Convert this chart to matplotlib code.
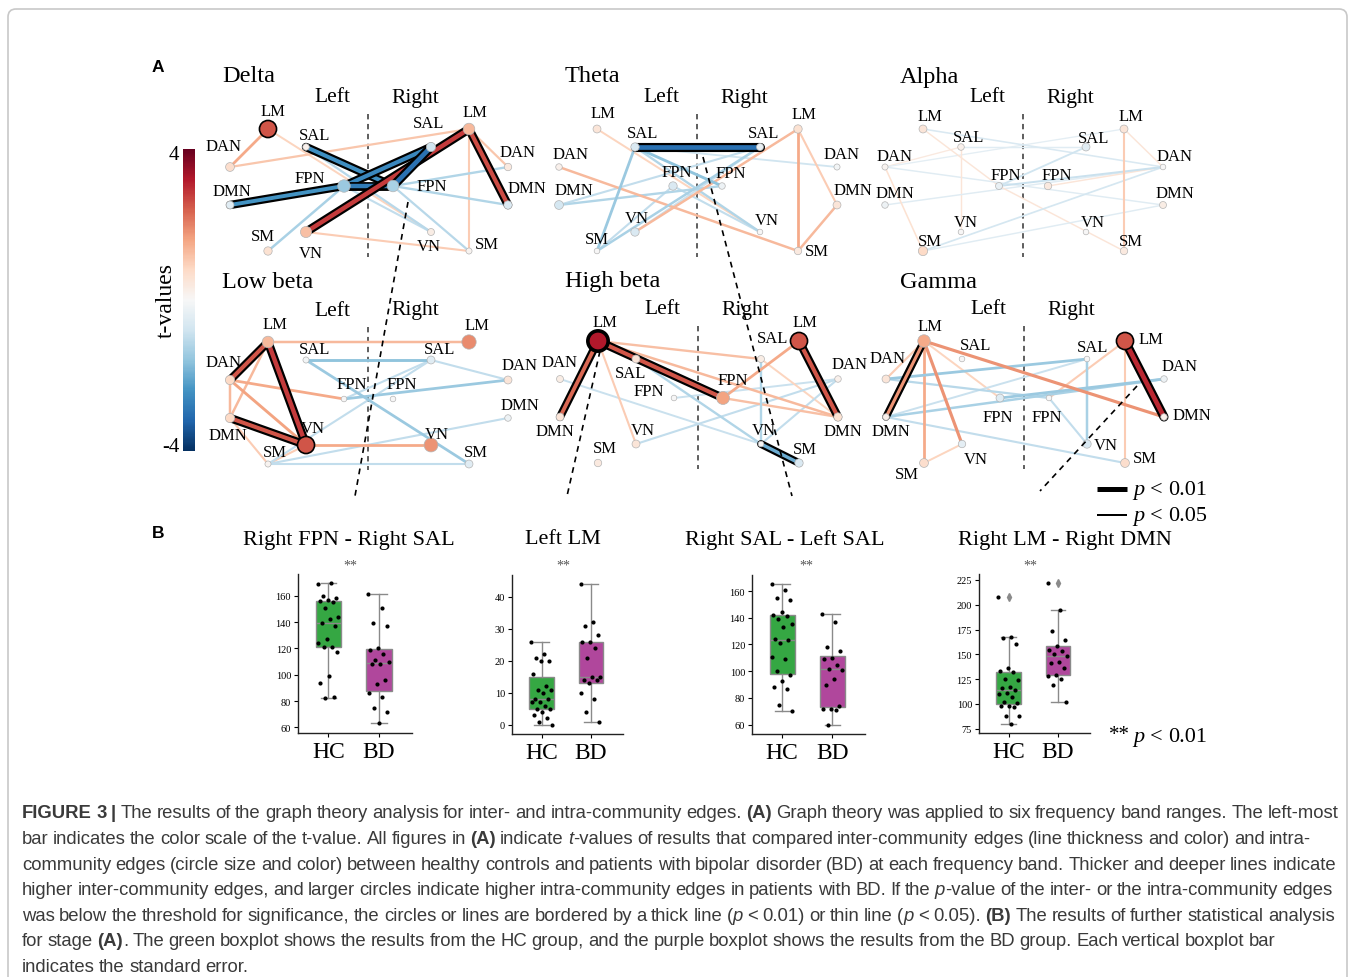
import numpy as np
import matplotlib.pyplot as plt
import matplotlib.patheffects as pe
from matplotlib.patches import FancyBboxPatch
from matplotlib.colors import Normalize
from matplotlib.cm import ScalarMappable

W, H = 1354, 978
SERIF = ['Liberation Serif', 'DejaVu Serif']
SANS = ['Liberation Sans', 'DejaVu Sans']
plt.rcParams['font.family'] = SERIF
PT = 0.72  # points per pixel at dpi 100
cmap = plt.get_cmap('RdBu_r')
norm = Normalize(-4, 4)

# ---------------- data: node t-values (order of node_names) ----------------
node_names = ['L_LM', 'L_SAL', 'L_DAN', 'L_DMN', 'L_FPN', 'L_VN', 'L_SM',
              'R_FPN', 'R_SAL', 'R_VN', 'R_LM', 'R_DAN', 'R_DMN', 'R_SM']

delta_nodes = [2.5, 0.2, 0.7, -0.5, -1.5, 1.2, 0.6, -1.3, -0.8, 0.3, 1.3, 0.4, -0.6, 0.1]
theta_nodes = [0.5, -0.6, 0.2, -0.7, -0.6, -0.6, 0.0, -0.2, -0.3, 0.0, 0.6, -0.1, 0.5, 0.4]
alpha_nodes = [0.5, 0.2, 0.1, -0.2, -0.3, 0.0, 0.8, 0.4, -0.5, 0.0, 0.5, 0.0, 0.3, 0.4]
lowbeta_nodes = [1.3, -0.1, 0.8, 0.8, 0.0, 2.5, 0.1, 0.0, -0.5, 1.8, 1.9, 0.5, -0.2, -0.5]
highbeta_nodes = [3.2, 0.5, 0.3, 0.5, 0.0, 0.5, 0.4, 1.6, 0.3, 0.0, 2.5, 0.2, 0.6, -0.6]
gamma_nodes = [1.5, 0.0, 0.5, 0.2, -0.5, -0.4, 0.7, 0.0, 0.0, -0.6, 2.5, -0.2, 0.2, 0.7]

# significant nodes: 1 = p<0.05, 2 = p<0.01
delta_node_sig = {'L_LM': 1}
theta_node_sig = {}
alpha_node_sig = {}
lowbeta_node_sig = {'L_VN': 1}
highbeta_node_sig = {'L_LM': 2, 'R_LM': 1}
gamma_node_sig = {'R_LM': 1}

# edges: (node a, node b, t-value, significance)
delta_edges = [
    ('L_LM', 'L_DAN', 1.5, 0), ('L_LM', 'R_VN', 0.9, 0), ('L_DAN', 'R_LM', 1.1, 0),
    ('L_VN', 'R_SM', 1.0, 0), ('R_LM', 'R_DAN', 1.1, 0), ('R_LM', 'R_SM', 1.0, 0),
    ('L_SAL', 'R_VN', -1.1, 0), ('L_SM', 'L_FPN', -1.3, 0), ('L_FPN', 'R_VN', -1.0, 0),
    ('R_FPN', 'R_DAN', -1.2, 0), ('R_FPN', 'R_DMN', -1.2, 0), ('R_FPN', 'R_SM', -1.1, 0),
    ('L_SAL', 'R_FPN', -2.5, 2), ('L_DMN', 'L_FPN', -2.4, 2), ('L_FPN', 'R_FPN', -2.8, 2),
    ('L_FPN', 'R_SAL', -2.6, 2), ('R_FPN', 'R_SAL', -3.0, 2), ('L_VN', 'R_LM', 2.8, 2),
    ('R_LM', 'R_DMN', 2.6, 2),
]
theta_edges = [
    ('L_LM', 'R_VN', 0.9, 0), ('L_DAN', 'R_SM', 1.3, 0), ('L_VN', 'R_LM', 1.3, 0),
    ('R_LM', 'R_SM', 1.5, 0), ('R_LM', 'R_DMN', 1.0, 0), ('R_DMN', 'R_SM', 1.3, 0),
    ('L_SAL', 'L_SM', -1.5, 0), ('L_SAL', 'R_VN', -1.2, 0), ('L_SAL', 'R_FPN', -1.6, 0),
    ('L_DMN', 'R_SAL', -1.0, 0), ('L_DMN', 'R_FPN', -1.2, 0), ('L_SAL', 'R_DAN', -0.8, 0),
    ('L_SM', 'R_SAL', -1.3, 0), ('L_SM', 'L_FPN', -1.0, 0), ('L_FPN', 'R_VN', -1.0, 0),
    ('L_VN', 'R_SAL', -0.9, 0),
    ('L_SAL', 'R_SAL', -3.0, 2),
]
alpha_edges = [
    ('L_LM', 'L_FPN', 0.5, 0), ('L_LM', 'R_DAN', -0.6, 0), ('L_DAN', 'L_SM', 0.6, 0),
    ('L_DAN', 'L_SAL', 0.4, 0), ('L_DAN', 'R_LM', -0.4, 0), ('L_DAN', 'R_DMN', -0.5, 0),
    ('L_SAL', 'L_VN', 0.5, 0), ('L_SAL', 'R_SAL', -0.5, 0), ('L_DMN', 'R_DAN', -0.5, 0),
    ('L_FPN', 'R_SAL', -0.8, 0), ('L_FPN', 'R_DAN', -0.9, 0), ('R_FPN', 'R_DAN', 0.5, 0),
    ('L_FPN', 'R_SM', 0.5, 0), ('L_SM', 'R_DAN', -0.7, 0), ('L_SM', 'R_DMN', -0.5, 0),
    ('R_LM', 'R_SM', 1.0, 0), ('R_LM', 'R_DAN', 0.5, 0),
]
lowbeta_edges = [
    ('L_LM', 'R_LM', 1.3, 0), ('L_LM', 'L_DMN', 1.3, 0), ('L_DAN', 'L_DMN', 1.3, 0),
    ('L_DAN', 'L_VN', 1.6, 0), ('L_DAN', 'L_FPN', 1.5, 0), ('L_DMN', 'L_SM', 1.0, 0),
    ('L_SM', 'L_VN', 1.0, 0), ('L_VN', 'R_VN', 1.5, 0), ('L_SAL', 'R_SAL', -1.6, 0),
    ('L_SAL', 'R_SM', -1.5, 0), ('L_FPN', 'R_SAL', -1.0, 0), ('L_FPN', 'R_DAN', -1.5, 0),
    ('R_SAL', 'R_DAN', -1.0, 0), ('L_SM', 'R_SM', -1.0, 0), ('L_SM', 'R_DMN', -1.0, 0),
    ('L_SM', 'R_SAL', -1.0, 0),
    ('L_LM', 'L_DAN', 2.5, 2), ('L_LM', 'L_VN', 2.8, 2), ('L_DMN', 'L_VN', 2.5, 2),
]
highbeta_edges = [
    ('L_LM', 'L_VN', 1.0, 0), ('L_LM', 'R_SAL', 1.2, 0), ('L_LM', 'R_DMN', 1.3, 0),
    ('L_SAL', 'R_VN', -1.2, 0), ('L_DAN', 'R_VN', -0.9, 0), ('L_FPN', 'R_DAN', -0.9, 0),
    ('L_VN', 'R_DAN', -1.0, 0), ('R_FPN', 'R_LM', 1.5, 0), ('R_FPN', 'R_DMN', 1.2, 0),
    ('R_SAL', 'R_DMN', 0.9, 0), ('R_SAL', 'R_VN', -1.2, 0), ('R_VN', 'R_DAN', -1.0, 0),
    ('L_LM', 'L_DMN', 2.3, 2), ('L_LM', 'R_FPN', 2.5, 2), ('R_LM', 'R_DMN', 2.5, 2),
    ('R_VN', 'R_SM', -2.0, 2),
]
gamma_edges = [
    ('L_LM', 'L_DAN', 1.0, 0), ('L_LM', 'L_SM', 1.5, 0), ('L_LM', 'L_VN', 1.8, 0),
    ('L_LM', 'L_FPN', 0.9, 0), ('L_LM', 'R_DMN', 1.8, 0), ('L_SM', 'L_VN', 0.9, 0),
    ('L_DAN', 'R_SAL', -1.5, 0), ('L_DAN', 'R_FPN', -1.1, 0), ('L_DMN', 'R_SAL', -0.9, 0),
    ('L_DMN', 'R_DAN', -1.3, 0), ('L_DMN', 'R_SM', -1.0, 0), ('L_FPN', 'R_DAN', -1.5, 0),
    ('R_FPN', 'R_LM', 1.0, 0), ('R_FPN', 'R_VN', -1.0, 0), ('R_SAL', 'R_VN', -1.3, 0),
    ('R_LM', 'R_SM', 1.0, 0),
    ('L_LM', 'L_DMN', 1.8, 2), ('R_LM', 'R_DMN', 3.0, 2),
]

band_names = ['Delta', 'Theta', 'Alpha', 'Low beta', 'High beta', 'Gamma']

# ---------------- data: boxplots ----------------
box_titles = ['Right FPN - Right SAL', 'Left LM', 'Right SAL - Left SAL', 'Right LM - Right DMN']
groups = ['HC', 'BD']
fpn_sal_hc = [169, 170, 160, 158, 157, 156, 155, 151, 144, 142, 139, 137, 127, 124, 121, 121, 117, 99, 94, 83, 82]
fpn_sal_bd = [161, 151, 139, 137, 120, 119, 116, 111, 110, 108, 108, 96, 93, 86, 83, 75, 72, 63]
lm_hc = [26, 22, 21, 20, 20, 16, 12, 11, 11, 10, 8, 8, 7, 7, 6, 5, 5, 4, 3, 2, 1, 0]
lm_bd = [44, 32, 31, 28, 26, 26, 24, 21, 15, 15, 14, 14, 13, 10, 8, 4, 1]
sal_hc = [165, 161, 155, 153, 144, 142, 141, 139, 135, 133, 124, 123, 121, 111, 109, 100, 97, 93, 88, 87, 75, 70]
sal_bd = [143, 137, 118, 115, 110, 109, 105, 102, 101, 94, 90, 74, 72, 72, 71, 60]
lmdmn_hc = [208, 167, 166, 160, 136, 133, 132, 125, 124, 117, 116, 114, 111, 110, 107, 102, 101, 98, 98, 97, 88, 88, 80]
lmdmn_bd = [222, 195, 174, 164, 158, 154, 153, 150, 148, 142, 141, 136, 129, 128, 125, 119, 102]
box_yticks = [[60, 80, 100, 120, 140, 160], [0, 10, 20, 30, 40],
              [60, 80, 100, 120, 140, 160], [75, 100, 125, 150, 175, 200, 225]]

caption_lines = [
    "**FIGURE 3 |** The results of the graph theory analysis for inter- and intra-community edges. **(A)** Graph theory was applied to six frequency band ranges. The left-most",
    "bar indicates the color scale of the t-value. All figures in **(A)** indicate _t_-values of results that compared inter-community edges (line thickness and color) and intra-",
    "community edges (circle size and color) between healthy controls and patients with bipolar disorder (BD) at each frequency band. Thicker and deeper lines indicate",
    "higher inter-community edges, and larger circles indicate higher intra-community edges in patients with BD. If the _p_-value of the inter- or the intra-community edges",
    "was below the threshold for significance, the circles or lines are bordered by a thick line (_p_ < 0.01) or thin line (_p_ < 0.05). **(B)** The results of further statistical analysis",
    "for stage **(A)**. The green boxplot shows the results from the HC group, and the purple boxplot shows the results from the BD group. Each vertical boxplot bar",
    "indicates the standard error.",
]

# ---------------- layout (pixels) ----------------
node_dx = [0, 38, -38, -38, 76, 38, 0, 125, 163, 163, 201, 240, 240, 201]
node_dy = [0, 18, 38, 76, 57, 103, 122, 57, 18, 103, 0, 38, 76, 122]
# label offsets per band, same order as node_names
band_label_off = [
    [(5, -18), (9, -12), (-6, -21), (2, -14), (-34, -8), (5, 21), (-5, -15),
     (39, 0), (-2, -24), (-2, 14), (6, -17), (10, -15), (19, -17), (18, -7)],
    [(6, -16), (8, -14), (12, -13), (15, -15), (4, -14), (2, -14), (0, -12),
     (9, -13), (4, -14), (7, -12), (6, -15), (5, -13), (16, -15), (19, 0)],
    [(7, -13), (8, -10), (10, -11), (10, -12), (7, -11), (5, -10), (7, -10),
     (9, -11), (8, -9), (7, -10), (7, -13), (12, -11), (12, -12), (7, -10)],
    [(7, -18), (9, -11), (-6, -18), (-2, 17), (8, -15), (7, -17), (7, -12),
     (9, -15), (9, -11), (6, -11), (8, -17), (12, -15), (12, -13), (7, -12)],
    [(7, -19), (-5, 14), (0, -17), (-5, 14), (-25, -7), (7, -14), (7, -15),
     (10, -18), (12, -21), (3, -14), (6, -19), (12, -15), (5, 14), (6, -14)],
    [(6, -15), (14, -14), (2, -21), (5, 14), (-2, 19), (14, 15), (-17, 11),
     (-2, 19), (6, -12), (19, 1), (26, -2), (16, -13), (28, -2), (20, -5)],
]
band_origin = [(268, 130), (597, 130), (923, 130), (268, 343), (598, 342), (924, 342)]
band_title_xy = [(222, 77), (565, 77), (900, 77), (222, 282), (565, 282), (900, 282)]
box_rects = [(298, 575, 412, 734), (512, 576, 623, 735), (752, 576, 865, 735), (979, 575, 1090, 734)]
box_ylims = [(55.7, 176.5), (-2.9, 46.8), (53, 172), (70.7, 231)]
box_title_x = [349, 563, 785, 1065]
star_x = [350, 563, 806, 1030]
GREEN, PURPLE = '#35a743', '#b0479c'

fig = plt.figure(figsize=(W / 100, H / 100), dpi=100)
ax = fig.add_axes([0, 0, 1, 1])
ax.set_xlim(0, W)
ax.set_ylim(H, 0)
ax.axis('off')

ax.add_patch(FancyBboxPatch((8, 10), 1339, 990, boxstyle='round,pad=0,rounding_size=8',
                            facecolor='none', edgecolor='#c8c8c8', lw=1.2))


def px_rect(l, t, r, b):
    return [l / W, 1 - b / H, (r - l) / W, (b - t) / H]


def draw_band(name, origin, title_xy, node_t, node_sig, edges, label_off):
    ox, oy = origin
    pos = {n: (ox + dx, oy + dy) for n, dx, dy in zip(node_names, node_dx, node_dy)}
    ax.text(title_xy[0], title_xy[1], name, fontsize=17.5, ha='left', va='center')
    ax.text(ox + 64, oy - 32, 'Left', fontsize=15.5, ha='center', va='center')
    ax.text(ox + 147, oy - 32, 'Right', fontsize=15.5, ha='center', va='center')
    ax.plot([ox + 100, ox + 100], [oy - 15, oy + 128], ls=(0, (3.5, 3)), color='#333', lw=1.1, zorder=1)
    for a, b, t, sig in sorted(edges, key=lambda e: (e[3], abs(e[2]))):
        w = (0.8 + 1.3 * abs(t)) * PT
        eff = None
        if sig:
            extra = 4.4 if sig == 2 else 2.2
            eff = [pe.Stroke(linewidth=w + extra * PT, foreground='black'), pe.Normal()]
        ax.plot([pos[a][0], pos[b][0]], [pos[a][1], pos[b][1]], color=cmap(norm(t)), lw=w,
                solid_capstyle='round', path_effects=eff, zorder=2 + sig)
    xs = [pos[n][0] for n in node_names]
    ys = [pos[n][1] for n in node_names]
    sizes = [(2 * (2.8 + 2.3 * abs(t)) * PT) ** 2 for t in node_t]
    ecs = ['black' if node_sig.get(n) else '#b5b5b5' for n in node_names]
    lws = [{0: 0.5, 1: 1.2, 2: 2.6}[node_sig.get(n, 0)] for n in node_names]
    ax.scatter(xs, ys, s=sizes, c=node_t, cmap=cmap, norm=norm, edgecolors=ecs, linewidths=lws, zorder=6)
    for n, (dx, dy) in zip(node_names, label_off):
        ax.text(pos[n][0] + dx, pos[n][1] + dy, n.split('_')[1], fontsize=12, ha='center', va='center', zorder=7)


band_nodes = [delta_nodes, theta_nodes, alpha_nodes, lowbeta_nodes, highbeta_nodes, gamma_nodes]
band_sig = [delta_node_sig, theta_node_sig, alpha_node_sig, lowbeta_node_sig, highbeta_node_sig, gamma_node_sig]
band_edges = [delta_edges, theta_edges, alpha_edges, lowbeta_edges, highbeta_edges, gamma_edges]
for i in range(6):
    draw_band(band_names[i], band_origin[i], band_title_xy[i], band_nodes[i], band_sig[i],
              band_edges[i], band_label_off[i])

# dashed pointers from panel A to panel B
for x0, y0, x1, y1 in [(408, 203, 355, 497), (703, 158, 792, 497), (600, 352, 567, 497), (1137, 387, 1040, 492)]:
    ax.plot([x0, x1], [y0, y1], ls=(0, (3.5, 3)), color='black', lw=1.2, zorder=8)

# legend for line thickness
ax.plot([1097, 1127], [490, 490], color='black', lw=5 * PT, solid_capstyle='butt')
ax.plot([1097, 1127], [516, 516], color='black', lw=2 * PT, solid_capstyle='butt')

# colorbar
cax = fig.add_axes(px_rect(183, 150, 195, 452))
cb = fig.colorbar(ScalarMappable(norm=norm, cmap=cmap), cax=cax)
cb.outline.set_visible(False)
cax.set_yticks([])
ax.text(174, 155, '4', fontsize=15, ha='center', va='center')
ax.text(171, 447, '-4', fontsize=15, ha='center', va='center')
ax.text(166, 300, 't-values', fontsize=17, rotation=90, ha='center', va='center')

ax.text(158, 68, 'A', fontsize=12.5, fontweight='bold', family=SANS, ha='center', va='center')
ax.text(158, 533, 'B', fontsize=12.5, fontweight='bold', family=SANS, ha='center', va='center')


# ---------------- panel B ----------------
def jitter(n):
    return (np.arange(n) * 0.618034 % 1.0 - 0.5) * 0.42


box_data = [(fpn_sal_hc, fpn_sal_bd), (lm_hc, lm_bd), (sal_hc, sal_bd), (lmdmn_hc, lmdmn_bd)]
gray = '#8a8a8a'
for k, (hc, bd) in enumerate(box_data):
    bax = fig.add_axes(px_rect(*box_rects[k]))
    bp = bax.boxplot([hc, bd], positions=[0, 1], widths=0.5, patch_artist=True, capwidths=0.3,
                     boxprops=dict(edgecolor=gray, linewidth=1),
                     medianprops=dict(color=gray, linewidth=1),
                     whiskerprops=dict(color=gray, linewidth=1),
                     capprops=dict(color=gray, linewidth=1),
                     flierprops=dict(marker='d', markerfacecolor=gray, markeredgecolor=gray, markersize=4))
    for patch, col in zip(bp['boxes'], [GREEN, PURPLE]):
        patch.set_facecolor(col)
    for j, vals in enumerate([hc, bd]):
        bax.scatter(j + jitter(len(vals)), vals, s=9, color='black', zorder=4, linewidths=0)
    bax.set_xlim(-0.6, 1.65)
    bax.set_ylim(*box_ylims[k])
    bax.set_yticks(box_yticks[k])
    bax.set_xticks([0, 1])
    bax.set_xticklabels(groups, fontsize=17)
    bax.tick_params(axis='y', labelsize=7.5, length=3, width=0.8, pad=2)
    bax.tick_params(axis='x', length=3, width=0.8, pad=3)
    for s in ['top', 'right']:
        bax.spines[s].set_visible(False)
    for s in ['left', 'bottom']:
        bax.spines[s].set_color('#222')
        bax.spines[s].set_linewidth(1)
    ax.text(box_title_x[k], 540, box_titles[k], fontsize=16, ha='center', va='center')
    ax.text(star_x[k], 566, '**', fontsize=10, color='#555', ha='center', va='center')


# ---------------- rich text helper ----------------
def parse_markup(s):
    words, word, buf = [], [], ''
    bold = ital = False
    i = 0
    while i < len(s):
        if s.startswith('**', i):
            if buf:
                word.append((buf, bold, ital))
                buf = ''
            bold = not bold
            i += 2
            continue
        ch = s[i]
        if ch == '_':
            if buf:
                word.append((buf, bold, ital))
                buf = ''
            ital = not ital
        elif ch == ' ':
            if buf:
                word.append((buf, bold, ital))
                buf = ''
            if word:
                words.append(word)
                word = []
        else:
            buf += ch
        i += 1
    if buf:
        word.append((buf, bold, ital))
    if word:
        words.append(word)
    return words


renderer = fig.canvas.get_renderer()


def text_width(s, size, family, bold=False, ital=False):
    t = fig.text(0, 0, s, fontsize=size, family=family, fontweight='bold' if bold else 'normal',
                 fontstyle='italic' if ital else 'normal')
    w = t.get_window_extent(renderer=renderer).width
    t.remove()
    return w


def rich_text(x, y, s, size, family, color, draw=True, space=1.0):
    sp = (text_width('x x', size, family) - text_width('xx', size, family)) * space
    for word in parse_markup(s):
        for txt, b, it in word:
            w = text_width(txt, size, family, b, it)
            if draw:
                fig.text(x / W, 1 - y / H, txt, fontsize=size, family=family, color=color,
                         fontweight='bold' if b else 'normal', fontstyle='italic' if it else 'normal',
                         ha='left', va='baseline')
            x += w
        x += sp
    return x - sp


rich_text(1133, 495, '_p_ < 0.01', 16, SERIF, 'black')
rich_text(1133, 521, '_p_ < 0.05', 16, SERIF, 'black')
ax.text(1119, 736, '**', fontsize=15, ha='center', va='center')
rich_text(1133, 742, '_p_ < 0.01', 16, SERIF, 'black')

# caption
cap_space = 0.85
cap_size = 11.0 * 1314 / (rich_text(0, 0, caption_lines[0], 11.0, SANS, 'k', draw=False, space=cap_space))
for i, line in enumerate(caption_lines):
    rich_text(22, 818.5 + 25.6 * i, line, cap_size, SANS, '#3a3a3a', space=cap_space)

fig.savefig('out.png', dpi=100)
